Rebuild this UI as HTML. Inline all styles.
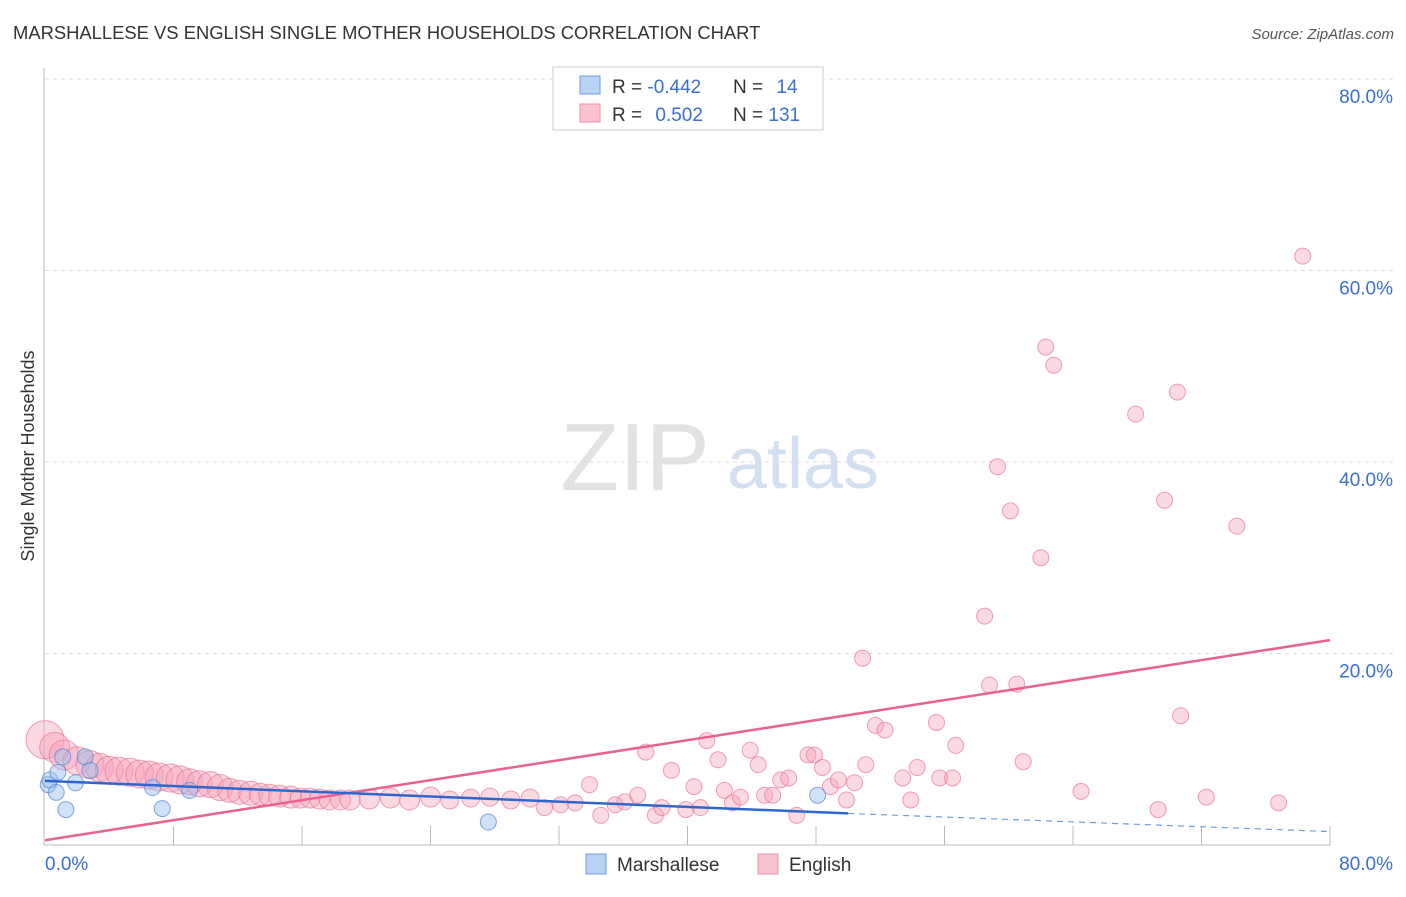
<!DOCTYPE html>
<html><head><meta charset="utf-8"><style>
body{margin:0;background:#fff;font-family:"Liberation Sans",sans-serif}
svg text{font-family:"Liberation Sans",sans-serif}
</style></head><body>
<svg id="chart" width="1406" height="892">
<text x="13" y="39" font-size="18.4" fill="#333">MARSHALLESE VS ENGLISH SINGLE MOTHER HOUSEHOLDS CORRELATION CHART</text>
<text x="1394" y="39" font-size="15" fill="#555" font-style="italic" text-anchor="end">Source: ZipAtlas.com</text>
<g>
<text x="635" y="490" font-size="96" fill="#e2e2e2" font-family="Liberation Serif" text-anchor="middle">ZIP</text>
<text x="803" y="488" font-size="72" fill="#d2e0f2" text-anchor="middle">atlas</text>
</g>
<g id="grid"></g>
<g id="axes"></g>
<g id="pts"></g>
<g id="lines"></g>
<text transform="translate(34,456) rotate(-90)" font-size="18" fill="#333" text-anchor="middle">Single Mother Households</text>
<g>
<rect x="553" y="67" width="270" height="63" fill="#fff" stroke="#ccc"/>
<rect x="580" y="76" width="20" height="18" fill="#b8d3f5" stroke="#6d9ee0"/>
<rect x="580" y="104" width="20" height="18" fill="#f9c3d2" stroke="#ee8fa9"/>
<text x="612" y="93" font-size="19" fill="#333">R = <tspan fill="#3b6fd0">-0.442</tspan></text>
<text x="733" y="93" font-size="19" fill="#333">N = <tspan fill="#3b6fd0" dx="8">14</tspan></text>
<text x="612" y="121" font-size="19" fill="#333">R = <tspan fill="#3b6fd0" dx="8">0.502</tspan></text>
<text x="733" y="121" font-size="19" fill="#333">N = <tspan fill="#3b6fd0">131</tspan></text>
</g>
<g>
<rect x="586" y="854" width="20" height="20" fill="#b8d3f5" stroke="#6d9ee0"/>
<text x="617" y="871" font-size="19" fill="#333">Marshallese</text>
<rect x="758" y="854" width="20" height="20" fill="#f9c3d2" stroke="#ee8fa9"/>
<text x="789" y="871" font-size="19" fill="#333">English</text>
</g>
</svg>
<script>
const yTicks=[20,40,60,80];
const yTickLabels=["20.0%","40.0%","60.0%","80.0%"];
const engX=[0,0.6,1.2,2.0,2.8,3.4,4.0,4.6,5.3,5.9,6.5,7.1,7.8,8.4,9.0,9.6,10.3,10.9,11.5,12.1,12.8,13.4,14.0,14.6,15.3,15.9,16.5,17.1,17.7,18.4,19.0,20.2,21.5,22.7,24.0,25.2,26.5,27.7,29.0,30.2,31.1,32.1,33.0,33.9,34.6,35.5,36.1,36.9,37.4,38.0,38.4,39.0,39.9,40.4,40.8,41.2,41.9,42.3,42.8,43.3,43.9,44.4,44.8,45.3,45.8,46.3,46.8,47.5,47.9,48.4,48.9,49.4,49.9,50.4,50.9,51.1,51.7,52.3,53.4,53.9,54.3,55.5,55.7,56.5,56.7,58.5,58.8,59.3,60.1,60.5,60.9,62.0,62.3,62.8,64.5,67.9,69.3,69.7,70.5,70.7,72.3,74.2,76.8,78.3];
const engY=[11.0,10.2,9.4,8.8,8.4,8.1,7.8,7.7,7.6,7.4,7.3,7.1,7.0,6.8,6.6,6.4,6.3,6.0,5.7,5.5,5.4,5.3,5.2,5.1,5.0,4.9,4.9,4.8,4.7,4.7,4.7,4.8,4.9,4.7,5.0,4.7,4.9,5.0,4.7,4.9,3.9,4.2,4.4,6.3,3.1,4.2,4.5,5.2,9.7,3.1,3.9,7.8,3.7,6.1,3.9,10.9,8.9,5.7,4.4,5.0,9.9,8.4,5.2,5.2,6.8,7.0,3.1,9.4,9.4,8.1,6.1,6.8,4.7,6.5,19.5,8.4,12.5,12.0,7.0,4.7,8.1,12.8,7.0,7.0,10.4,23.9,16.7,39.5,34.9,16.8,8.7,30.0,52.0,50.1,5.6,45.0,3.7,36.0,47.3,13.5,5.0,33.3,4.4,61.5];
const engR=[19,15,15,14,14,14,14,14,14,14,14,14,14,14,13,13,13,13,12,12,12,11,11,11,11,10,10,10,10,10,10,10,10,10,10,9,9,9,9,9,8,8,8,8,8,8,8,8,8,8,8,8,8,8,8,8,8,8,8,8,8,8,8,8,8,8,8,8,8,8,8,8,8,8,8,8,8,8,8,8,8,8,8,8,8,8,8,8,8,8,8,8,8,8,8,8,8,8,8,8,8,8,8,8];
const marX=[0.2,0.3,0.7,0.8,1.1,1.3,1.9,2.5,2.8,6.7,7.3,9.0,27.6,48.1];
const marY=[6.3,6.8,5.5,7.6,9.2,3.7,6.5,9.2,7.8,6.0,3.8,5.7,2.4,5.2];
const engTrend=[[0,0.5],[80,21.4]];
const marTrendSolid=[[0,6.7],[50,3.3]];
const marTrendDash=[[50,3.3],[80,1.4]];
const NS='http://www.w3.org/2000/svg';
const X0=45,X1=1330,Y0=845,Y1=79;
const sx=v=>X0+v/80*(X1-X0), sy=v=>Y0-v/80*(Y0-Y1);
function mk(parent,tag,attrs){const e=document.createElementNS(NS,tag);for(const k in attrs)e.setAttribute(k,attrs[k]);document.getElementById(parent).appendChild(e);return e;}
yTicks.forEach((t,i)=>{
 const g=mk('grid','line',{x1:X0,x2:1394,y1:sy(t),y2:sy(t),stroke:'#ddd','stroke-dasharray':'4,4'});
 
 
 const l=mk('axes','text',{x:1393,y:sy(t)+24,'font-size':19,fill:'#3b6fd0','text-anchor':'end'});
 l.textContent=yTickLabels[i];
 
 
});
let a=mk('axes','line',{x1:44,x2:44,y1:68,y2:Y0,stroke:'#bbb'});


a=mk('axes','line',{x1:44,x2:X1,y1:Y0,y2:Y0,stroke:'#bbb'});


for(let i=1;i<=10;i++){const t=mk('axes','line',{x1:sx(i*8),x2:sx(i*8),y1:826,y2:Y0,stroke:'#bbb'});
 
 }
let xl=mk('axes','text',{x:45,y:870,'font-size':19,fill:'#3b6fd0'});xl.textContent='0.0%';


xl=mk('axes','text',{x:1393,y:870,'font-size':19,fill:'#3b6fd0','text-anchor':'end'});xl.textContent='80.0%';


engX.forEach((v,i)=>{const c=mk('pts','circle',{cx:sx(v),cy:sy(engY[i]),r:engR[i],fill:'rgba(246,160,185,0.4)',stroke:'rgba(232,110,145,0.65)'});
 
 });
marX.forEach((v,i)=>{const c=mk('pts','circle',{cx:sx(v),cy:sy(marY[i]),r:8,fill:'rgba(150,190,240,0.45)',stroke:'rgba(80,130,210,0.7)'});
 
 });
let ln=mk('lines','line',{x1:sx(engTrend[0][0]),y1:sy(engTrend[0][1]),x2:sx(engTrend[1][0]),y2:sy(engTrend[1][1]),stroke:'#e8628f','stroke-width':2.5});


ln=mk('lines','line',{x1:sx(marTrendSolid[0][0]),y1:sy(marTrendSolid[0][1]),x2:sx(marTrendSolid[1][0]),y2:sy(marTrendSolid[1][1]),stroke:'#2f66cc','stroke-width':2.5});


ln=mk('lines','line',{x1:sx(marTrendDash[0][0]),y1:sy(marTrendDash[0][1]),x2:sx(marTrendDash[1][0]),y2:sy(marTrendDash[1][1]),stroke:'#6d9ee0','stroke-width':1.2,'stroke-dasharray':'6,5'});


</script>
</body></html>
